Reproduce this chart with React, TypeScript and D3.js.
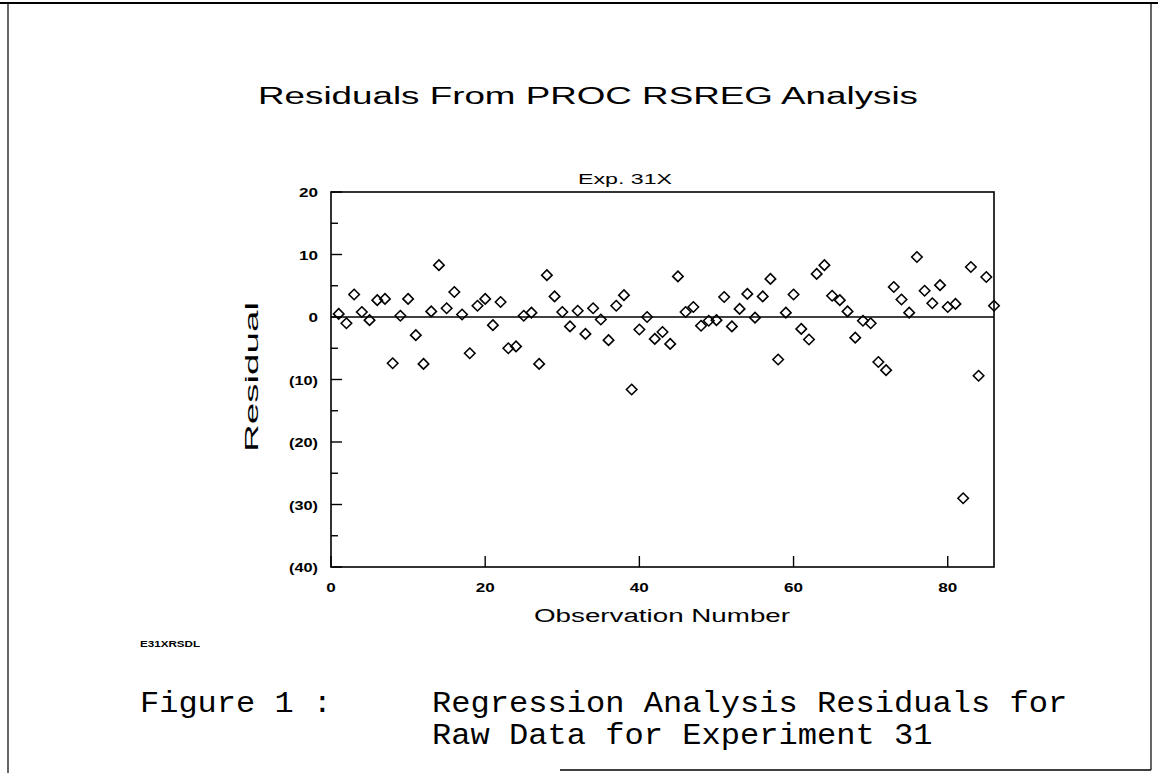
import React from "react";
import * as d3 from "d3";

const titleText = "Residuals From PROC RSREG Analysis";
const subTitle = "Exp. 31X";
const xLabel = "Observation Number";
const yLabel = "Residual";
const codeLabel = "E31XRSDL";
const captionLeft = "Figure 1 :";
const captionLines = ["Regression Analysis Residuals for", "Raw Data for Experiment 31"];

const xTicks = [0, 20, 40, 60, 80];
const yMajorTicks = [20, 10, 0, -10, -20, -30, -40];
const yMinorTicks = [15, 5, -5, -15, -25, -35];
const yTickLabels = ["20", "10", "0", "(10)", "(20)", "(30)", "(40)"];

const residuals = [
  0.5, -1.0, 3.6, 0.8, -0.5, 2.7, 2.9, -7.4, 0.2, 2.9,
  -2.9, -7.5, 0.9, 8.3, 1.4, 4.0, 0.4, -5.8, 1.8, 2.9,
  -1.3, 2.4, -5.0, -4.7, 0.2, 0.7, -7.5, 6.7, 3.3, 0.8,
  -1.5, 1.0, -2.7, 1.4, -0.4, -3.7, 1.8, 3.5, -11.6, -2.0,
  0.0, -3.5, -2.4, -4.3, 6.5, 0.8, 1.6, -1.4, -0.6, -0.5,
  3.2, -1.5, 1.3, 3.7, -0.1, 3.3, 6.1, -6.8, 0.7, 3.6,
  -1.9, -3.6, 6.9, 8.3, 3.4, 2.7, 0.9, -3.3, -0.6, -1.0,
  -7.2, -8.5, 4.8, 2.8, 0.7, 9.6, 4.2, 2.2, 5.1, 1.6,
  2.1, -29.0, 8.0, -9.4, 6.4, 1.8,
];
const observations = residuals.map((_, i) => i + 1);

function labelWidth(s: string) {
  let w = 0;
  for (const c of s) w += c === "(" || c === ")" ? 5 : 9.5;
  return w;
}

export default function App() {
  const W = 1158, H = 773;
  const L = 331, R = 994, T = 192, B = 567;
  const x = d3.scaleLinear().domain([0, 86]).range([L, R]);
  const y = d3.scaleLinear().domain([-40, 20]).range([B, T]);
  const sym = d3.symbol().type(d3.symbolDiamond2).size(70)();
  const axisFont = "'Liberation Sans', Arial, sans-serif";
  const mono = "'Liberation Mono', 'Courier New', monospace";

  return (
    <svg width={W} height={H} style={{ position: "absolute", left: 0, top: 0, background: "#fff" }}>
      <rect x={0} y={0} width={W} height={H} fill="#fff" />
      {/* page frame */}
      <line x1={0} y1={3} x2={W} y2={3} stroke="#000" strokeWidth={2} />
      <line x1={8} y1={3} x2={8} y2={H} stroke="#000" strokeWidth={1.2} />
      <line x1={1151} y1={3} x2={1151} y2={770} stroke="#000" strokeWidth={1.2} />
      <line x1={560} y1={770} x2={1151} y2={770} stroke="#000" strokeWidth={1.5} />

      {/* titles */}
      <text x={588} y={104} textAnchor="middle" fontFamily={axisFont} fontSize={23}
        textLength={660} lengthAdjust="spacingAndGlyphs">{titleText}</text>
      <text x={625} y={184} textAnchor="middle" fontFamily={axisFont} fontSize={15}
        textLength={94} lengthAdjust="spacingAndGlyphs">{subTitle}</text>

      {/* plot frame */}
      <rect x={L} y={T} width={R - L} height={B - T} fill="none" stroke="#000" strokeWidth={1.6} />

      {/* y ticks */}
      {yMajorTicks.map((v, i) => (
        <g key={"ym" + v}>
          <line x1={L} x2={L + 11} y1={y(v)} y2={y(v)} stroke="#000" strokeWidth={1.4} />
          <text x={318} y={y(v) + 5} textAnchor="end" fontFamily={axisFont} fontWeight="bold"
            fontSize={13} textLength={labelWidth(yTickLabels[i])} lengthAdjust="spacingAndGlyphs">
            {yTickLabels[i]}
          </text>
        </g>
      ))}
      {yMinorTicks.map((v) => (
        <line key={"yn" + v} x1={L} x2={L + 7} y1={y(v)} y2={y(v)} stroke="#000" strokeWidth={1.4} />
      ))}

      {/* x ticks */}
      {xTicks.map((v) => (
        <g key={"x" + v}>
          <line x1={x(v)} x2={x(v)} y1={B} y2={B - 11} stroke="#000" strokeWidth={1.4} />
          <text x={x(v)} y={592} textAnchor="middle" fontFamily={axisFont} fontWeight="bold"
            fontSize={13} textLength={labelWidth(String(v))} lengthAdjust="spacingAndGlyphs">{v}</text>
        </g>
      ))}

      {/* zero reference line */}
      <line x1={L} x2={R} y1={y(0)} y2={y(0)} stroke="#000" strokeWidth={1.6} />

      {/* points */}
      {residuals.map((v, i) => (
        <path key={i} d={sym} transform={`translate(${x(observations[i])},${y(v)})`}
          fill="none" stroke="#000" strokeWidth={1.6} />
      ))}

      {/* axis labels */}
      <text x={662} y={622} textAnchor="middle" fontFamily={axisFont} fontSize={18}
        textLength={256} lengthAdjust="spacingAndGlyphs">{xLabel}</text>
      <text transform={`translate(258,${377}) rotate(-90)`} textAnchor="middle" fontFamily={axisFont}
        fontSize={18} textLength={150} lengthAdjust="spacingAndGlyphs">{yLabel}</text>

      <text x={140} y={647} fontFamily={axisFont} fontWeight="bold" fontSize={9}
        textLength={60} lengthAdjust="spacingAndGlyphs">{codeLabel}</text>

      {/* caption */}
      <text x={140} y={712} fontFamily={mono} fontSize={30}
        textLength={192} lengthAdjust="spacingAndGlyphs">{captionLeft}</text>
      {captionLines.map((s, i) => (
        <text key={i} x={432} y={712 + i * 32} fontFamily={mono} fontSize={30}
          textLength={s.length * 19.25} lengthAdjust="spacingAndGlyphs">{s}</text>
      ))}
    </svg>
  );
}
